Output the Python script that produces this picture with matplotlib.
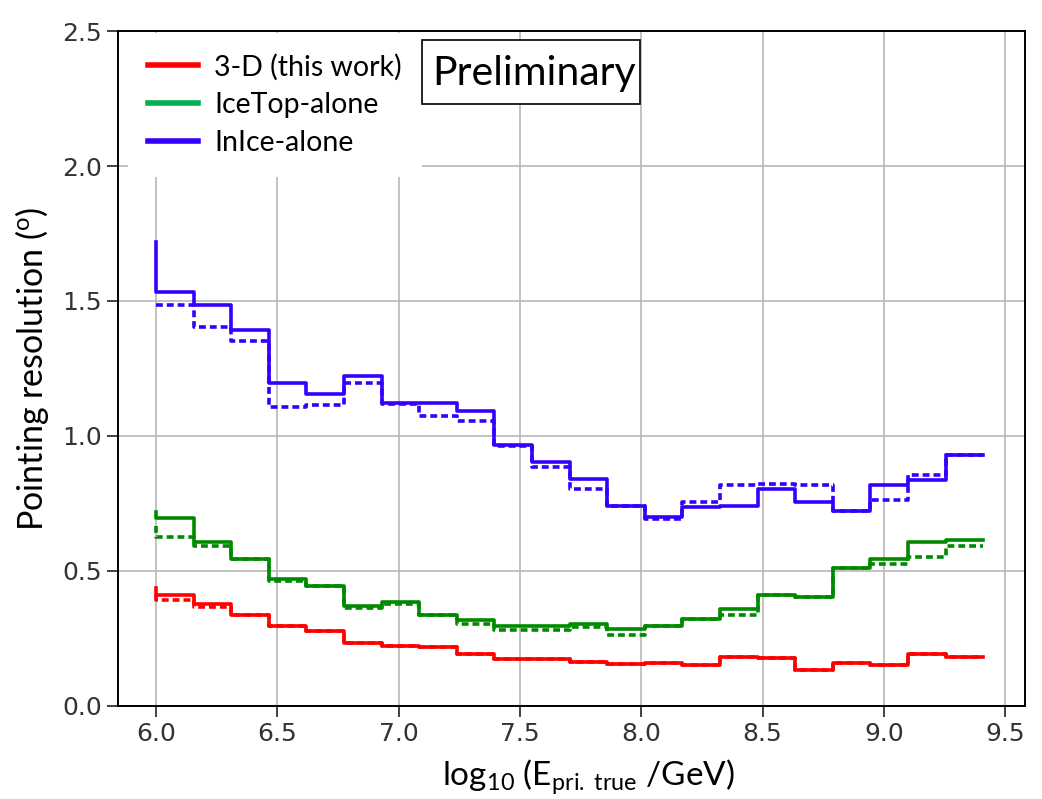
import numpy as np
import matplotlib
matplotlib.use("Agg")
import matplotlib.pyplot as plt
from matplotlib.lines import Line2D
from matplotlib.patches import Rectangle

plt.rcParams['font.family'] = 'DejaVu Sans'
plt.rcParams['mathtext.fontset'] = 'custom'
plt.rcParams['mathtext.rm'] = 'Lato'
plt.rcParams['mathtext.it'] = 'Lato:italic'

# bin edges in log10(E/GeV), 22 bins
edges = 6.0 + 0.155 * np.arange(23)

# first value is the point drawn at the left edge (step where='pre')
inice = [1.72, 1.534, 1.485, 1.393, 1.195, 1.156, 1.222, 1.121, 1.121, 1.094, 0.965,
         0.905, 0.839, 0.742, 0.699, 0.736, 0.742, 0.803, 0.757, 0.722, 0.817, 0.837, 0.93]
inice_alt = [1.485, 1.485, 1.405, 1.352, 1.109, 1.115, 1.195, 1.117, 1.074, 1.054, 0.964,
             0.886, 0.803, 0.742, 0.693, 0.754, 0.817, 0.823, 0.817, 0.722, 0.763, 0.856, 0.93]
icetop = [0.72, 0.695, 0.606, 0.544, 0.470, 0.444, 0.371, 0.386, 0.337, 0.317, 0.295,
          0.295, 0.302, 0.284, 0.296, 0.323, 0.358, 0.410, 0.404, 0.510, 0.546, 0.606, 0.614]
icetop_alt = [0.665, 0.627, 0.594, 0.544, 0.463, 0.444, 0.362, 0.378, 0.337, 0.304, 0.283,
              0.283, 0.291, 0.262, 0.296, 0.323, 0.336, 0.410, 0.404, 0.510, 0.526, 0.552, 0.594]
threed = [0.436, 0.411, 0.378, 0.337, 0.296, 0.278, 0.234, 0.223, 0.217, 0.194, 0.175,
          0.175, 0.162, 0.154, 0.160, 0.153, 0.181, 0.177, 0.133, 0.160, 0.153, 0.194, 0.180]
threed_alt = [0.41, 0.393, 0.366, 0.337, 0.296, 0.278, 0.234, 0.223, 0.217, 0.194, 0.175,
              0.175, 0.162, 0.154, 0.160, 0.153, 0.181, 0.177, 0.133, 0.160, 0.153, 0.194, 0.180]

labels = ['3-D (this work)', 'IceTop-alone', 'InIce-alone']
line_colors = ['#ff0000', '#008a00', '#3300ff']
legend_colors = ['#ff0000', '#00b050', '#3300ff']

fig = plt.figure(figsize=(10.42, 7.99), dpi=100)
ax = fig.add_axes([0.1132, 0.1164, 0.8705, 0.8448])

dash = (0, (1.9, 1.1))
lw = 2.6
series = [(threed, threed_alt), (icetop, icetop_alt), (inice, inice_alt)]
# dashed first, solid on top
for (solid, alt), c in zip(series, line_colors):
    ax.step(edges, alt, where='pre', color=c, lw=lw, linestyle=dash)
    ax.step(edges, solid, where='pre', color=c, lw=lw)

ax.set_xlim(5.843, 9.582)
ax.set_ylim(0, 2.5)
ax.set_xticks([6.0, 6.5, 7.0, 7.5, 8.0, 8.5, 9.0, 9.5])
ax.set_yticks([0.0, 0.5, 1.0, 1.5, 2.0, 2.5])
ax.grid(True, color='#b8b8b8', lw=1.2)
ax.set_axisbelow(True)
ax.tick_params(labelsize=18, length=8, width=1.3, colors='#333333')
for s in ax.spines.values():
    s.set_linewidth(1.4)

ax.set_xlabel(r'log$_{10}$ (E$_{\rm pri.\ true}$ /GeV)', fontsize=24, family='Lato')
ax.xaxis.set_label_coords(0.519, -0.075)
ax.set_ylabel(r'Pointing resolution ($^{\rm o}$)', fontsize=24.5, family='Lato', labelpad=8)

handles = [Line2D([], [], color=c, lw=4) for c in legend_colors]
leg = ax.legend(handles, labels, loc='upper left', bbox_to_anchor=(0.011, 0.997),
                prop={'family': 'Lato', 'size': 20.5}, frameon=True, fancybox=False,
                framealpha=1, edgecolor='none', facecolor='white',
                handlelength=1.75, handletextpad=0.55, labelspacing=0.42,
                borderpad=0.72, borderaxespad=0.0)

fig.patches.append(Rectangle((422 / 1042, 1 - 104 / 799), 218 / 1042, 64 / 799,
                             transform=fig.transFigure, facecolor='white',
                             edgecolor='black', lw=1.2, zorder=5))
fig.text(432 / 1042, 1 - 85.5 / 799, 'Preliminary', fontsize=29.5, family='Lato',
         ha='left', va='baseline', zorder=6)

fig.savefig('out.png', dpi=100)
